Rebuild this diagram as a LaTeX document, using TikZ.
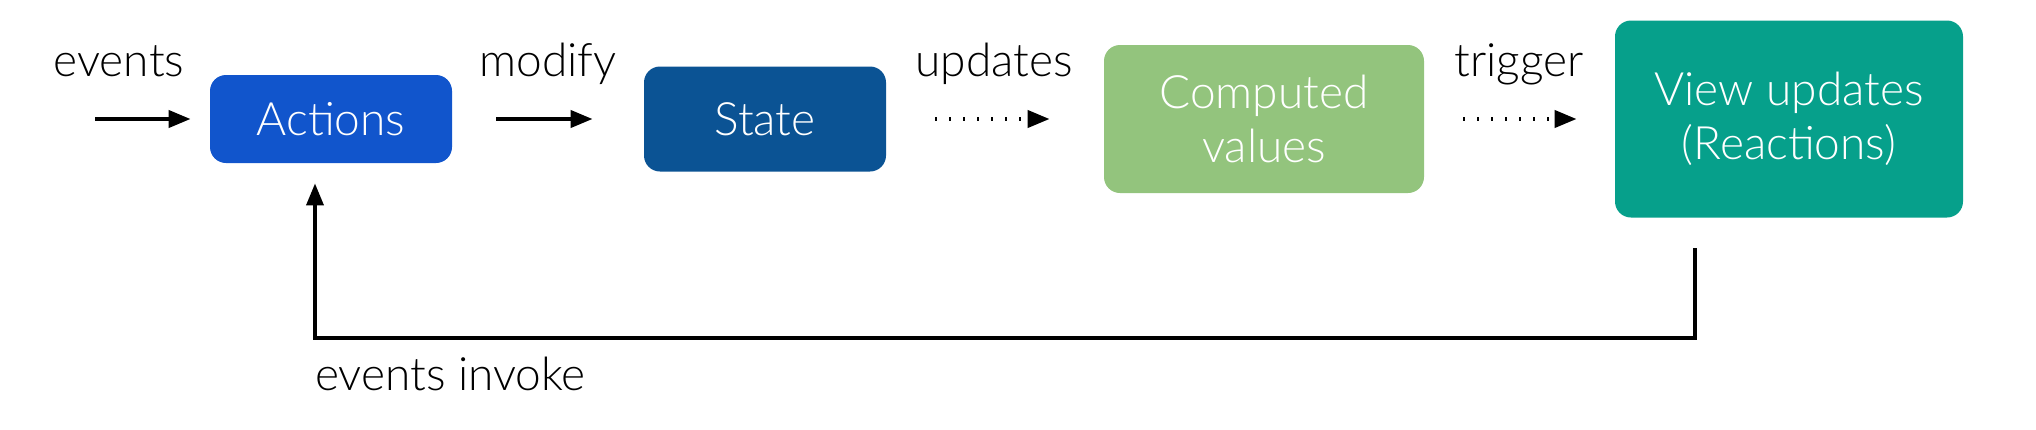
\documentclass[tikz,border=0pt]{standalone}
\usepackage{fontspec}
\setmainfont{Lato Light}
\usetikzlibrary{arrows.meta}
\definecolor{actblue}{HTML}{1155CC}
\definecolor{stateblue}{HTML}{0B5394}
\definecolor{compgreen}{HTML}{93C47D}
\definecolor{viewteal}{HTML}{06A08B}
\begin{document}
\begin{tikzpicture}[x=0.5pt,y=-0.5pt]
        \tikzset{Box/.style={rounded corners=8pt, text=white, align=center, inner sep=0pt,
                font=\fontsize{23}{27}\selectfont},
                Label/.style={anchor=base, font=\fontsize{23}{27}\selectfont},
                Flow/.style={line width=2pt, -{Triangle[length=11pt,width=8.5pt]}},
                DotFlow/.style={Flow, dash pattern=on 1pt off 6pt}}
        \useasboundingbox (0,0) rectangle (2036,429);
        \node[Box, fill=actblue, minimum width=121pt, minimum height=44pt] (Actions) at (331,119) {Actions};
        \node[Box, fill=stateblue, minimum width=121pt, minimum height=52.5pt] (State) at (765,119) {State};
        \node[Box, fill=compgreen, minimum width=160pt, minimum height=74pt] (Computed) at (1264,119) {Computed\\values};
        \node[Box, fill=viewteal, minimum width=174pt, minimum height=98.5pt] (View) at (1789,119) {View updates\\(Reactions)};
        \coordinate (start) at (95,119);
        \coordinate (fbstart) at (1695,248);
        \coordinate (fbcorner) at (315,338);
        \node[Label] (events) at (119,76) {events};
        \node[Label] (modify) at (548,76) {modify};
        \node[Label] (updates) at (994,76) {updates};
        \node[Label] (trigger) at (1519,76) {trigger};
        \node[Label, anchor=base west] (invoke) at (308,390) {events invoke};
        \draw[Flow, shorten >=9.5pt] (start) -- (Actions);
        \draw[Flow, shorten <=22pt, shorten >=25.5pt] (Actions) -- (State);
        \draw[DotFlow, shorten <=24.5pt, shorten >=27pt] (State) -- (Computed);
        \draw[DotFlow, shorten <=19.5pt, shorten >=19pt] (Computed) -- (View);
        \draw[Flow, line width=1.8pt, shorten >=10pt] (fbstart) |- (fbcorner) -- ([xshift=-8pt]Actions.south);
\end{tikzpicture}
\end{document}
